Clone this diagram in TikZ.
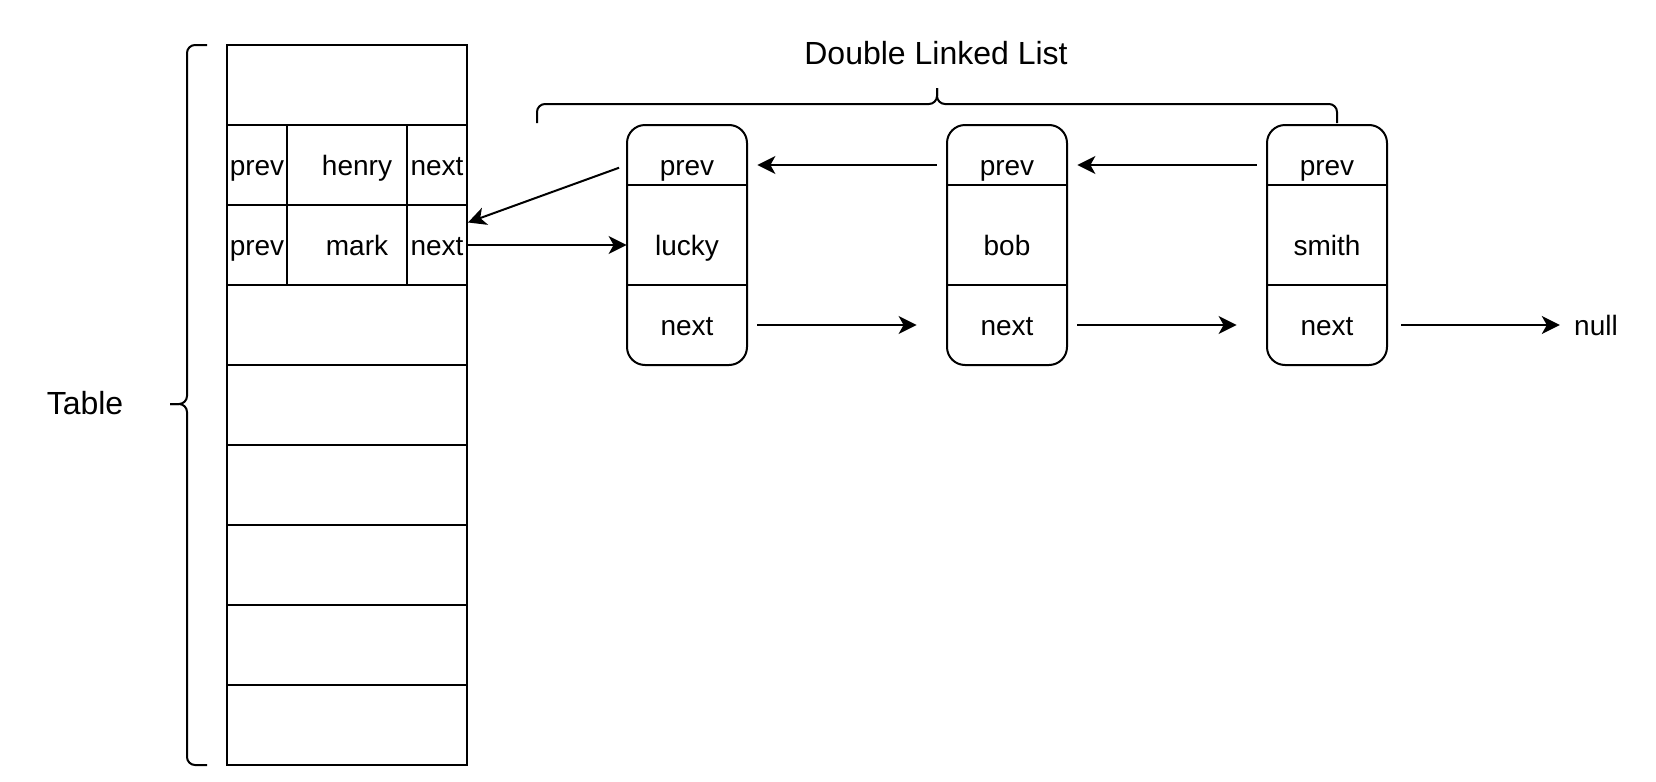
\documentclass[tikz,border=0pt]{standalone}
\usepackage{fontspec}
\setmainfont{Liberation Sans}
\usetikzlibrary{arrows.meta}

\tikzset{
  slot/.style={draw, line width=1pt, minimum width=120pt, minimum height=40pt,
    inner sep=0pt, text height=12pt, text depth=2pt,
    font=\fontsize{14pt}{17pt}\selectfont},
  field/.style={inner sep=0pt, minimum width=60pt, text height=12pt, text depth=2pt,
    font=\fontsize{14pt}{17pt}\selectfont},
  link/.style={line width=1pt, -{Stealth[length=9pt,width=9pt,inset=2.5pt]}},
  curly/.style={line width=1pt, rounded corners=4pt},
  caption/.style={font=\fontsize{16pt}{19pt}\selectfont}
}

\begin{document}
\begin{tikzpicture}[x=0.5pt, y=-0.5pt]
\useasboundingbox (0,0) rectangle (1656,782);

\newcommand\DrawListNode[3]{% name, left edge, value
  \draw[line width=1pt, rounded corners=9pt] (#2,125) rectangle (#2+120,365);
  \draw[line width=1pt] (#2,185) -- (#2+120,185);
  \draw[line width=1pt] (#2,285) -- (#2+120,285);
  \node[field] (#1-prev) at (#2+60,165) {prev};
  \node[field] (#1) at (#2+60,245) {#3};
  \node[field] (#1-next) at (#2+60,325) {next};
}

% the table, nine slots of which two are filled
\foreach \r in {1,4,5,6,7,8,9}
  \node[slot] (row\r) at (347,5+80*\r) {};
\node[slot, minimum width=30pt] (henry-prev) at (257,165) {prev};
\node[slot, minimum width=60pt] (henry) at (347,165) {\hspace*{10pt}henry};
\node[slot, minimum width=30pt] (henry-next) at (437,165) {next};
\node[slot, minimum width=30pt] (mark-prev) at (257,245) {prev};
\node[slot, minimum width=60pt] (mark) at (347,245) {\hspace*{10pt}mark};
\node[slot, minimum width=30pt] (mark-next) at (437,245) {next};

\draw[curly] (207,45) -| (187,404) -- (170,404);
\draw[curly] (207,765) -| (187,404) -- (170,404);
\node[caption] (table) at (85,403) {Table};

% the list
\DrawListNode{lucky}{627}{lucky}
\DrawListNode{bob}{947}{bob}
\DrawListNode{smith}{1267}{smith}
\node[field, minimum width=0pt] (null) at (1596,325) {null};

\draw[curly] (537,123) |- (937,104) -- (937,88);
\draw[curly] (1337,123) |- (937,104) -- (937,88);
\node[caption] (title) at (936,53) {Double Linked List};

\draw[link] (mark-next.east) -- (lucky.west);
\draw[link, shorten <=4pt] (lucky-prev.west) -- (mark-next.36);
\draw[link, shorten <=5pt, shorten >=5pt] (bob-prev.west) -- (lucky-prev.east);
\draw[link, shorten <=5pt, shorten >=5pt] (smith-prev.west) -- (bob-prev.east);
\draw[link, shorten <=5pt, shorten >=15pt] (lucky-next.east) -- (bob-next.west);
\draw[link, shorten <=5pt, shorten >=15pt] (bob-next.east) -- (smith-next.west);
\draw[link, shorten <=7pt, shorten >=7pt] (smith-next.east) -- (null.west);
\end{tikzpicture}
\end{document}
